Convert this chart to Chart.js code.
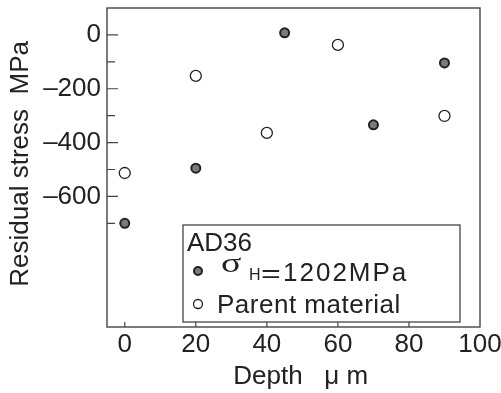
<!DOCTYPE html>
<html lang="en">
<head>
    <meta charset="UTF-8">
    <title>Residual stress vs depth</title>
    <script src="https://cdn.jsdelivr.net/npm/chart.js"></script>
    <style>
        body {
            margin: 0;
            padding: 0;
            background: white;
        }
        .chart-box {
            width: 501px;
            height: 393px;
        }
    </style>
</head>
<body>

<div class="chart-box">
    <canvas id="stressChart"></canvas>
</div>

<script>
    // values
    const depthHardened = [0, 20, 45, 70, 90];
    const stressHardened = [-700, -495, 8, -334, -104];
    const depthParent = [0, 20, 40, 60, 90];
    const stressParent = [-513, -152, -364, -37, -301];

    const xTicks = [0, 20, 40, 60, 80, 100];
    const yTicks = [0, -100, -200, -300, -400, -500, -600, -700];
    const yLabelled = [0, -200, -400, -600];

    const FONT = "'Liberation Sans', Arial, sans-serif";
    const INK = '#222';

    const hardened = {
        label: 'AD36 hardened',
        data: depthHardened.map((x, i) => ({x: x, y: stressHardened[i]})),
        pointRadius: 4.5,
        pointBorderWidth: 2,
        pointBackgroundColor: '#7a7a7a',
        pointBorderColor: '#222'
    };
    const parent = {
        label: 'Parent material',
        data: depthParent.map((x, i) => ({x: x, y: stressParent[i]})),
        pointRadius: 5.5,
        pointBorderWidth: 1.3,
        pointBackgroundColor: 'white',
        pointBorderColor: '#222'
    };

    // frame, inward ticks and the boxed key
    const decorations = {
        id: 'decorations',
        afterDraw(chart) {
            const ctx = chart.ctx;
            const a = chart.chartArea;
            const xs = chart.scales.x, ys = chart.scales.y;
            ctx.save();
            ctx.strokeStyle = '#444';
            ctx.lineWidth = 1.4;
            ctx.strokeRect(a.left, a.top, a.right - a.left, a.bottom - a.top);

            ctx.lineWidth = 1.2;
            ctx.beginPath();
            yTicks.forEach(v => {
                const py = ys.getPixelForValue(v);
                const len = v % 200 === 0 ? 11 : 8;
                ctx.moveTo(a.left, py);
                ctx.lineTo(a.left + len, py);
            });
            xTicks.slice(0, -1).forEach(v => {
                const px = xs.getPixelForValue(v);
                ctx.moveTo(px, a.bottom);
                ctx.lineTo(px, a.bottom - 5);
            });
            ctx.stroke();

            // key box
            const bx = 183, by = 225, bw = 277, bh = 97;
            ctx.fillStyle = 'white';
            ctx.fillRect(bx, by, bw, bh);
            ctx.strokeStyle = '#444';
            ctx.lineWidth = 1.3;
            ctx.strokeRect(bx, by, bw, bh);

            ctx.fillStyle = INK;
            ctx.textBaseline = 'alphabetic';
            ctx.textAlign = 'left';
            ctx.font = '26px ' + FONT;
            ctx.fillText('AD36', 187, 251);

            // hardened row
            ctx.beginPath();
            ctx.arc(198, 271, 4, 0, Math.PI * 2);
            ctx.fillStyle = hardened.pointBackgroundColor;
            ctx.fill();
            ctx.lineWidth = 2;
            ctx.strokeStyle = hardened.pointBorderColor;
            ctx.stroke();

            ctx.fillStyle = INK;
            ctx.save();
            ctx.translate(221, 272);
            ctx.scale(1.35, 1);
            ctx.font = "28px 'Liberation Serif', serif";
            ctx.fillText('σ', 0, 0);
            ctx.restore();
            ctx.font = '16px ' + FONT;
            ctx.fillText('H', 249, 280);
            ctx.save();
            ctx.translate(261, 282);
            ctx.scale(1.3, 1);
            ctx.font = '26px ' + FONT;
            ctx.fillText('=', 0, 0);
            ctx.restore();
            ctx.font = '26px ' + FONT;
            ctx.letterSpacing = '2px';
            ctx.fillText('1202MPa', 283, 281);
            ctx.letterSpacing = '0px';

            // parent row
            ctx.beginPath();
            ctx.arc(198, 304, 4.5, 0, Math.PI * 2);
            ctx.fillStyle = 'white';
            ctx.fill();
            ctx.lineWidth = 1.3;
            ctx.strokeStyle = parent.pointBorderColor;
            ctx.stroke();
            ctx.fillStyle = INK;
            ctx.letterSpacing = '0.5px';
            ctx.fillText('Parent material', 217, 313);
            ctx.restore();
        }
    };

    const ctx = document.getElementById('stressChart').getContext('2d');
    const stressChart = new Chart(ctx, {
        type: 'scatter',
        data: {datasets: [hardened, parent]},
        options: {
            responsive: true,
            maintainAspectRatio: false,
            animation: false,
            layout: {padding: {top: 8, right: 21, left: 0, bottom: 0}},
            plugins: {
                legend: {display: false},
                tooltip: {enabled: false}
            },
            scales: {
                x: {
                    type: 'linear',
                    min: -5,
                    max: 100,
                    afterBuildTicks: s => { s.ticks = xTicks.map(v => ({value: v})); },
                    afterFit: s => { s.height = 66; s.paddingLeft = 0; s.paddingRight = 0; },
                    grid: {display: false, drawTicks: false},
                    border: {display: false},
                    ticks: {
                        color: INK,
                        padding: 2,
                        maxRotation: 0,
                        font: {family: FONT, size: 26}
                    },
                    title: {
                        display: true,
                        text: '  Depth   μ m',
                        color: INK,
                        padding: {top: 0, bottom: 1},
                        font: {family: FONT, size: 26}
                    }
                },
                y: {
                    type: 'linear',
                    min: -1085,
                    max: 100,
                    afterBuildTicks: s => { s.ticks = yTicks.map(v => ({value: v})); },
                    afterFit: s => { s.width = 107; s.paddingTop = 0; s.paddingBottom = 0; },
                    grid: {display: false, drawTicks: false},
                    border: {display: false},
                    ticks: {
                        color: INK,
                        padding: 6,
                        font: {family: FONT, size: 26},
                        callback: v => yLabelled.includes(v) ? (v < 0 ? '–' + (-v) : '0') : ''
                    },
                    title: {
                        display: true,
                        text: ' Residual stress  MPa',
                        color: INK,
                        padding: {top: 5, bottom: 0},
                        font: {family: FONT, size: 26}
                    }
                }
            }
        },
        plugins: [decorations]
    });
</script>

</body>
</html>
